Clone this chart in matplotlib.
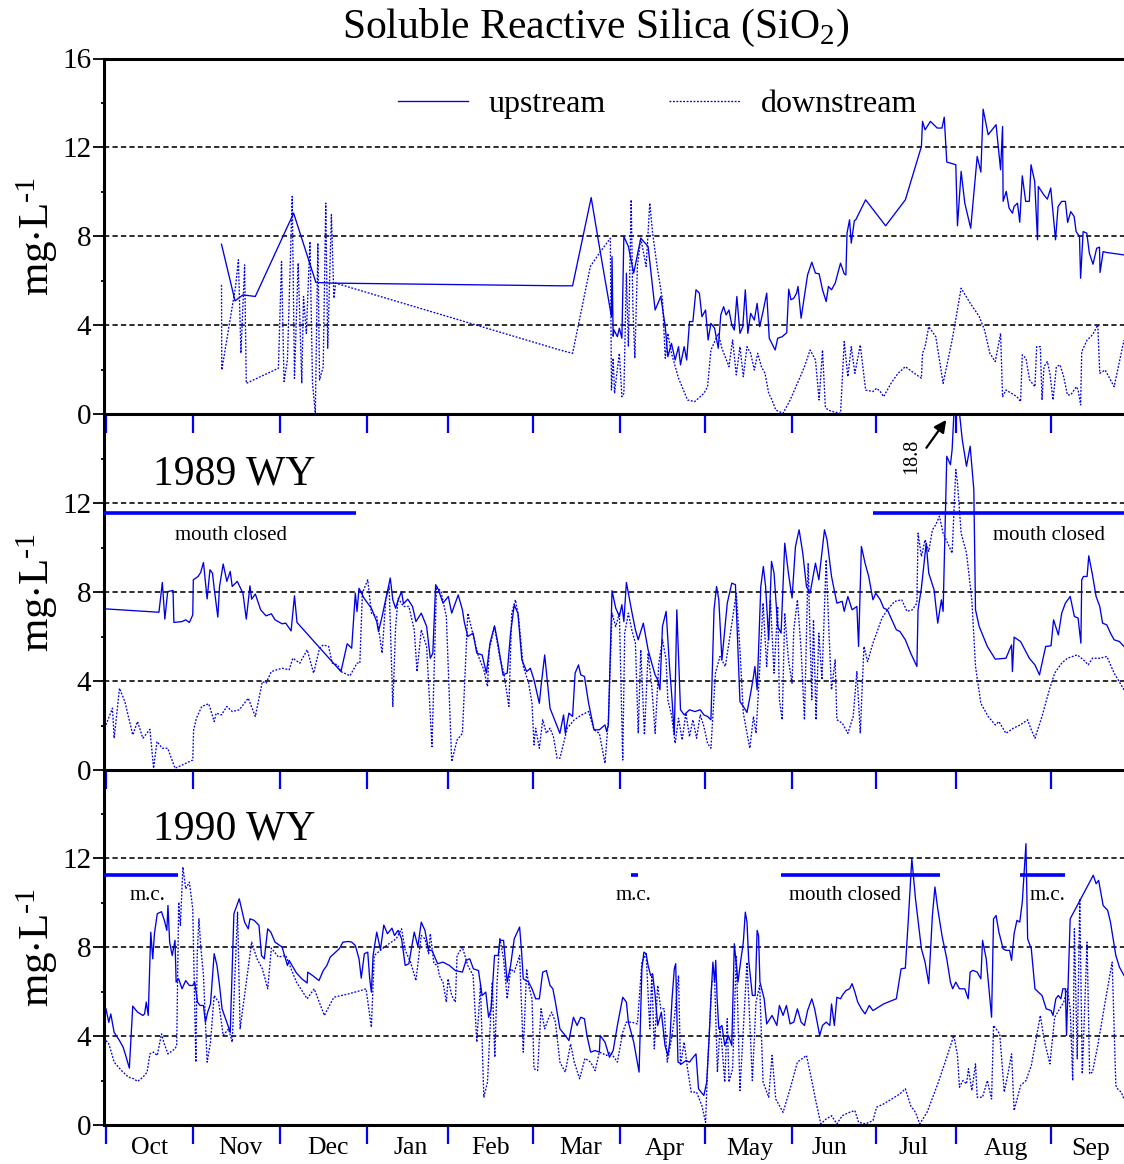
import matplotlib
matplotlib.use("Agg")
import matplotlib.pyplot as plt
import numpy as np

plt.rcParams['font.family'] = ['Liberation Serif', 'DejaVu Serif']
plt.rcParams['mathtext.fontset'] = 'custom'
plt.rcParams['mathtext.rm'] = 'Liberation Serif'

# (water-year day, mg/L) -- day 0 is Oct 1
wy88_up = [
    (41, 7.64), (45.8, 5.09), (48.6, 5.36), (53, 5.29), (66.6, 9.04), (74.5, 5.92), (80.9, 5.89),
    (161.1, 5.77), (165.6, 5.77), (172.2, 9.74), (175.1, 7.54), (179.4, 4.38), (179.6, 7.09),
    (180.0, 3.5), (180.3, 3.78), (181.5, 3.48), (182.2, 3.86), (183.1, 3.41), (183.8, 7.99),
    (185.4, 7.54), (187.3, 6.34), (189.8, 7.91), (192.4, 7.54), (194.9, 4.68), (196.9, 5.29),
    (198.5, 3.93), (199.4, 2.58), (200.7, 3.18), (202, 2.43), (203.2, 3.03), (203.9, 2.21),
    (205.2, 3.03), (206.1, 2.43), (207.1, 4.16), (208.3, 4.16), (209.4, 5.59), (210.6, 5.44),
    (211.5, 4.38), (212.8, 4.68), (213.7, 3.33), (214.7, 4.08), (216, 3.86), (217.3, 2.96),
    (218.2, 4.46), (219.2, 4.83), (220.1, 4.46), (221.1, 4.68), (222.1, 4.01), (223, 3.78),
    (223.9, 5.29), (225, 3.63), (226, 3.93), (226.9, 5.59), (227.8, 3.63), (228.8, 4.53),
    (230.1, 4.23), (231.1, 4.98), (232, 3.93), (233.3, 4.68), (234.5, 5.44), (235.4, 3.41),
    (237.5, 2.88), (238.4, 3.41), (240, 3.48), (241.6, 3.66), (242.3, 5.62), (243.1, 5.14),
    (244.1, 5.21), (245.1, 5.44), (245.6, 5.74), (246.7, 4.31), (249, 6.26), (250.5, 6.83),
    (251.8, 6.34), (253.1, 6.31), (254.3, 5.59), (255.6, 5.06), (256.4, 5.74), (257.5, 5.59),
    (258.8, 5.89), (260.7, 6.79), (262, 6.31), (262.6, 6.26), (263, 8.14), (263.9, 8.74),
    (264.5, 7.69), (265.6, 8.7), (266.1, 8.74), (269.6, 9.64), (276.7, 8.47), (283.7, 9.64),
    (289.4, 12.04), (289.8, 13.17), (290.7, 12.79), (292.6, 13.17), (295, 12.87), (296.7, 12.87),
    (297.5, 13.36), (298.4, 11.34), (301.6, 11.22), (302.2, 8.47), (303.5, 10.92), (304.8, 9.49),
    (306.9, 8.36), (309.2, 11.59), (310.5, 10.89), (311.3, 13.72), (313.1, 12.57), (315.9, 13.02),
    (317.5, 10.99), (318.2, 12.94), (318.4, 9.57), (319.5, 10.02), (320.5, 9.27), (321.7, 9.04),
    (322.3, 9.34), (323.5, 9.49), (324.3, 8.63), (325.2, 10.72), (326.4, 9.57), (327.7, 9.57),
    (328.3, 11.22), (329.6, 10.47), (330.6, 7.84), (330.9, 10.24), (332.8, 9.87), (334.1, 9.67),
    (335.3, 10.17), (337, 7.84), (337.9, 9.34), (339.2, 9.57), (340.5, 9.57), (341.3, 8.62),
    (342.4, 9.11), (343.6, 8.89), (344.3, 8.21), (345.5, 7.99), (345.9, 6.11), (346.8, 8.21),
    (348.1, 8.14), (349, 7.24), (350.3, 6.74), (351.6, 7.46), (352.6, 7.51), (352.8, 6.37),
    (353.9, 7.31), (355.1, 7.27), (361.3, 7.16),
]
wy88_dn = [
    (41, 5.81), (41.1, 1.98), (46, 5.74), (47, 6.94), (47.9, 2.73), (49.2, 6.71), (49.8, 1.38),
    (61.2, 2.06), (62.3, 6.86), (63.2, 1.46), (64.4, 2.43), (66.1, 9.79), (66.9, 1.61), (68.2, 6.79),
    (69.5, 1.38), (70.1, 5.29), (71.1, 3.63), (72.4, 7.76), (73.3, 1.38), (74.3, 0.03), (75.2, 7.69),
    (75.8, 1.53), (77.1, 2.13), (78, 9.49), (78.7, 2.96), (80, 8.97), (80.9, 5.21), (81.5, 5.89),
    (161.1, 2.88), (165.6, 2.73), (171.9, 6.64), (175.1, 7.24), (179, 7.91), (179.4, 1.08),
    (180, 2.51), (180.5, 0.93), (181.3, 1.83), (182.2, 2.73), (183.1, 0.78), (183.8, 0.93),
    (184.7, 6.34), (185.4, 3.03), (186.4, 9.64), (187, 4.83), (187.7, 2.51), (188.6, 6.64),
    (189.8, 7.91), (191.7, 6.64), (193, 9.49), (194, 8.14), (195.6, 6.64), (197.5, 5.14),
    (198.5, 2.51), (199.4, 3.63), (200.7, 2.73), (203.2, 1.61), (206.4, 0.63), (209, 0.56),
    (212.2, 0.93), (213.5, 1.23), (214.7, 2.88), (217.3, 3.63), (218.6, 2.96), (221.1, 2.13),
    (222.4, 3.33), (223.7, 1.76), (225, 3.03), (226.2, 1.68), (227.5, 3.03), (228.8, 2.73),
    (230.1, 1.98), (231.3, 2.73), (232.6, 2.13), (233.9, 1.83), (235.2, 0.93), (236.4, 0.63),
    (237.7, 0.18), (240.3, 0.03), (242.8, 0.63), (245.4, 1.38), (247.9, 2.13), (249.9, 2.88),
    (251.8, 2.43), (253.1, 0.63), (254.3, 2.88), (255.3, 0.33), (256.2, 0.18), (258.2, 0.1),
    (260.7, 0.03), (262, 3.26), (263.3, 1.68), (264.5, 3.03), (265.8, 1.83), (267.7, 3.11),
    (269.6, 1.08), (272.2, 1.01), (273.5, 1.16), (274.8, 1.01), (276, 0.78), (278.6, 1.38),
    (281.1, 1.83), (283.7, 2.13), (286.9, 1.83), (289.4, 1.61), (289.8, 2.73), (290.7, 3.03),
    (292, 3.93), (294.5, 3.48), (297.1, 1.38), (300.3, 3.33), (303.5, 5.66), (306.7, 4.99),
    (309.9, 4.39), (311.8, 3.78), (313.7, 2.73), (315.6, 2.36), (317.5, 3.63), (318.2, 0.78),
    (319.4, 1.08), (321.4, 0.93), (323.3, 0.78), (324.6, 0.56), (325.2, 2.66), (326.5, 2.51),
    (327.8, 1.53), (329.7, 1.23), (330.3, 3.03), (331.6, 3.03), (332.2, 0.63), (332.9, 2.13),
    (334.1, 2.36), (335, 1.83), (336.1, 0.63), (337.3, 2.13), (338.6, 2.21), (339.9, 1.68),
    (341.2, 0.86), (342.4, 0.86), (344.4, 1.23), (345, 1.08), (345.9, 0.41), (346.3, 2.81),
    (348.2, 3.33), (350.1, 3.56), (352, 4.01), (352.7, 1.83), (354.6, 1.98), (356.5, 1.53),
    (357.8, 1.23), (361.3, 3.33),
]

wy89_up = [
    (0, 7.25), (18.8, 7.1), (20, 8.44), (20.9, 6.79), (21.9, 8.03), (23.8, 8.08), (24.1, 6.64),
    (27, 6.68), (28.3, 6.76), (29.6, 6.64), (30.8, 6.98), (31, 8.56), (32.7, 8.71), (33.6, 8.89),
    (34.6, 9.34), (35.9, 7.7), (36.9, 9.01), (37.8, 8.86), (38.4, 8.18), (39.7, 6.88), (40.3, 8.26),
    (41.6, 9.27), (42.9, 8.49), (44.1, 8.94), (44.8, 8.26), (46.6, 8.49), (48.6, 7.96), (49.8, 6.79),
    (51.1, 8.29), (51.7, 7.69), (53, 7.92), (54.9, 7.21), (56.8, 6.94), (58.7, 7.03), (60, 6.76),
    (62.5, 6.58), (63.8, 6.61), (65.7, 6.26), (66.9, 7.84), (67.8, 6.64), (83.4, 4.43), (85.6, 5.68),
    (87.2, 5.48), (88.5, 7.96), (89.1, 7.13), (89.8, 8.18), (91.6, 7.73), (94.2, 7.28), (96.1, 6.68),
    (96.7, 6.23), (98, 6.91), (99, 7.51), (100.5, 8.41), (100.9, 8.64), (101.8, 7.66), (102.8, 7.28),
    (103.7, 7.66), (104.9, 8.03), (105.6, 7.48), (107.1, 7.69), (108.8, 7.36), (110, 6.68),
    (111.9, 7.06), (113.8, 6.46), (115.1, 5.03), (116, 5.26), (117, 8.34), (118, 8.11), (119.6, 7.51),
    (121.5, 7.81), (122.7, 7.06), (125, 7.88), (126.5, 7.21), (127.2, 6.64), (128.4, 6.01),
    (130.3, 6.16), (131.6, 5.26), (133.5, 5.18), (135, 4.36), (136.3, 5.71), (137.9, 6.49),
    (139.2, 5.63), (140.9, 4.28), (142.4, 4.36), (143.6, 6.16), (144.9, 7.43), (146.2, 7.06),
    (147.6, 4.96), (149.3, 4.43), (150.6, 4.58), (151.9, 4.06), (153.8, 3.0), (154.4, 3.76),
    (155.7, 5.18), (157.6, 2.78), (161.1, 1.65), (162.4, 2.48), (163, 1.65), (164.3, 2.56),
    (165.6, 2.41), (166.5, 4.36), (167.7, 4.73), (168.5, 4.28), (169.8, 4.21), (171.3, 3.0),
    (173.2, 1.81), (175.1, 1.81), (177.1, 2.03), (177.7, 1.73), (178.3, 2.03), (179.6, 8.07),
    (180.9, 7.29), (182.2, 6.91), (183.1, 7.44), (183.8, 6.68), (184.7, 8.44), (186.6, 7.14),
    (187.9, 6.31), (188.9, 5.86), (190.7, 6.61), (192.4, 5.41), (193.7, 4.81), (194.9, 4.28),
    (195.8, 4.06), (196.6, 3.61), (197.5, 6.46), (198.8, 7.14), (200.0, 4.66), (200.9, 3.16),
    (201.7, 1.58), (202.6, 7.21), (203.9, 2.71), (205.2, 2.48), (207.1, 2.71), (209, 2.63),
    (210.9, 2.71), (212.2, 2.48), (213.5, 2.41), (214.7, 2.26), (215.8, 7.21), (216.7, 8.26),
    (217.5, 7.66), (218.6, 4.96), (220.5, 7.51), (222.1, 8.41), (223.4, 8.34), (225, 3.08),
    (226.2, 2.86), (227.5, 2.59), (228.8, 3.46), (229.8, 4.21), (230.3, 4.66), (231.1, 3.61),
    (232.4, 8.26), (233.3, 9.16), (234.1, 8.26), (235.2, 5.86), (236.2, 9.39), (237.1, 8.86),
    (238.4, 6.46), (239.6, 6.16), (240.9, 10.21), (242.2, 8.86), (243.5, 7.74), (244.7, 10.06),
    (246, 10.81), (247.3, 9.76), (248.6, 8.26), (249.9, 7.96), (251.8, 9.31), (253.0, 8.56),
    (255, 10.81), (255.9, 10.36), (257.5, 8.71), (258.2, 8.26), (259.4, 7.51), (261.3, 7.59),
    (262, 7.14), (263.3, 7.81), (264.8, 7.21), (266.5, 7.36), (267.1, 5.56), (268.1, 10.06),
    (269.4, 9.31), (270.7, 8.71), (272.2, 7.66), (273.2, 7.96), (274.8, 7.66), (276, 7.29),
    (277.3, 7.21), (278.6, 6.84), (280.5, 6.31), (281.8, 6.23), (283.7, 5.86), (285.6, 5.26),
    (287.8, 4.66), (288.2, 7.21), (289.4, 8.19), (291.1, 10.21), (292, 8.86), (293.9, 8.11),
    (295.2, 6.61), (296.5, 7.66), (297.1, 7.14), (298.4, 14.12), (299.7, 13.74), (300.3, 14.42),
    (302, 18.8), (302.9, 16.07), (303.9, 14.87), (305.4, 13.67), (306.7, 14.57), (308, 12.62),
    (308.6, 7.21), (309.9, 6.46), (312.8, 5.56), (315.6, 4.99), (319.4, 5.03), (321.4, 5.63),
    (321.7, 4.43), (322.3, 5.98), (324.6, 5.78), (327.7, 5.03), (329.7, 4.73), (331.3, 4.28),
    (333.5, 5.56), (335.4, 5.59), (336.3, 6.76), (338, 6.08), (339.2, 7.06), (340.5, 7.51),
    (342.2, 7.81), (343.7, 6.91), (345, 6.84), (346, 5.71), (346.3, 8.56), (346.9, 8.71),
    (348.2, 8.71), (348.8, 9.64), (350.1, 8.79), (351.4, 7.81), (352.7, 7.36), (353.7, 6.61),
    (355.2, 6.53), (356.5, 6.16), (357.8, 5.86), (359.7, 5.78), (361.3, 5.56),
]
wy89_dn = [
    (0, 2.03), (2.3, 2.78), (2.9, 1.43), (4.8, 3.68), (6.7, 3.08), (9.5, 1.58), (11.2, 2.18),
    (13.1, 1.43), (15.6, 1.83), (16.9, 0.08), (18.1, 1.28), (20, 0.98), (21.9, 0.98), (24.5, 0.08),
    (25.8, 0.15), (28.3, 0.3), (30.8, 0.45), (31.1, 1.8), (32.1, 2.33), (34, 2.86), (36.5, 2.98),
    (38.4, 2.18), (39.1, 2.56), (41, 2.48), (42.9, 2.86), (44.8, 2.63), (47.3, 2.71), (50.5, 3.23),
    (53, 2.41), (55.5, 3.98), (56.8, 3.91), (58.7, 4.43), (60.6, 4.51), (62.5, 4.58), (65, 4.51),
    (66.3, 5.03), (68.8, 4.81), (71.4, 5.41), (73.7, 4.36), (75.8, 5.48), (77.1, 5.63), (79, 5.56),
    (80.3, 4.81), (82.2, 4.73), (83.4, 4.43), (86.6, 4.24), (89.1, 4.81), (90.1, 4.81), (91, 7.96),
    (92.9, 8.56), (94.2, 7.06), (96.1, 6.91), (98, 5.26), (99.3, 7.66), (100.5, 8.26), (101.8, 2.86),
    (102.8, 6.46), (103.7, 7.73), (105.6, 7.36), (107.5, 7.36), (109.4, 6.31), (110.4, 4.43),
    (111.9, 6.31), (113.8, 5.56), (115.7, 1.05), (117.3, 8.26), (118.9, 8.03), (120.8, 6.91),
    (122.7, 0.38), (124.6, 1.35), (126.5, 1.65), (128.4, 7.06), (130.3, 6.08), (132.2, 5.11),
    (134.1, 4.51), (135.4, 3.76), (136, 5.41), (137.9, 6.46), (139.8, 5.03), (141.1, 4.43),
    (143, 2.86), (144, 7.06), (145.3, 7.66), (146.4, 6.91), (148.1, 4.66), (150, 3.91), (151.2, 3.0),
    (151.9, 1.13), (152.5, 1.88), (153.8, 0.98), (155, 2.26), (156.3, 1.65), (157.6, 1.88),
    (158.8, 1.5), (160.1, 0.53), (161.1, 0.53), (163.7, 1.88), (166.2, 2.26), (168.8, 2.48),
    (171.3, 2.63), (173.2, 1.81), (175.1, 1.65), (177.1, 0.3), (178.3, 2.26), (179.6, 7.06),
    (180.9, 6.46), (182.2, 7.06), (183.4, 0.45), (184.1, 6.16), (185.4, 7.06), (186.6, 6.31),
    (187.9, 5.71), (188.9, 1.65), (189.8, 5.41), (191.1, 1.58), (192.4, 5.26), (193.7, 3.76),
    (194.9, 1.65), (196.2, 4.81), (197.5, 5.86), (198.8, 4.96), (199.4, 3.16), (200.7, 2.48),
    (202, 1.2), (203.2, 2.33), (204.5, 1.35), (205.8, 2.56), (207.1, 1.5), (208.3, 2.26),
    (209.6, 1.43), (210.9, 2.48), (212.2, 1.96), (213.5, 1.2), (214.7, 0.98), (216.3, 4.36),
    (217.9, 5.11), (219.8, 4.66), (221.8, 6.31), (223.7, 7.96), (225, 5.41), (226.2, 2.56),
    (227.5, 1.65), (228.5, 0.98), (229.8, 2.41), (230.7, 1.65), (232, 4.51), (233.2, 7.51),
    (234.5, 4.66), (235.8, 7.66), (237.1, 4.36), (238.4, 7.36), (239, 3.16), (240, 2.26),
    (240.9, 7.06), (242.2, 4.96), (243.5, 3.91), (244.1, 6.31), (245.4, 7.66), (246.7, 5.41),
    (247.9, 2.26), (249.2, 9.31), (250.5, 3.16), (251.1, 6.76), (252, 2.26), (253, 6.16),
    (254.1, 4.06), (255.6, 9.46), (256.6, 6.16), (257.5, 3.61), (258.8, 4.96), (259.4, 2.26),
    (261.3, 2.11), (263.3, 1.65), (265.2, 2.41), (266.5, 4.43), (267.7, 1.65), (269, 5.56),
    (270.3, 4.88), (272.2, 5.71), (273.5, 6.16), (275.4, 6.84), (277.3, 7.21), (279.9, 7.59),
    (282.4, 7.66), (284.3, 7.14), (286.2, 7.21), (287.8, 7.51), (288.2, 10.66), (289.4, 9.61),
    (290.7, 10.36), (292, 9.84), (293.3, 10.81), (294.5, 11.04), (295.8, 11.42), (297.1, 10.66),
    (300.3, 9.76), (301.6, 13.52), (302.2, 12.92), (303.5, 10.66), (305.4, 9.76), (307.3, 7.66),
    (308.6, 4.66), (310.5, 3.0), (313.1, 2.41), (315.6, 2.03), (316.9, 2.18), (319.4, 1.65),
    (322, 1.88), (324.5, 2.03), (327.1, 2.26), (328.4, 1.81), (329.7, 1.43), (332.2, 2.41),
    (334.8, 3.61), (336.7, 4.36), (339.2, 4.81), (341.2, 5.03), (344.7, 5.18), (346.9, 4.96),
    (348.6, 4.73), (350.1, 5.03), (352.7, 5.03), (355.2, 5.11), (357.8, 4.36), (361.3, 3.61),
]

wy90_up = [
    (0, 5.23), (1, 4.62), (1.7, 5.0), (2.9, 4.17), (4.8, 3.8), (6.1, 3.5), (7, 3.13), (8.3, 2.56),
    (9.5, 5.35), (11.2, 5.08), (13.1, 4.93), (13.7, 5.0), (14.3, 5.53), (15, 4.93), (15.9, 8.68),
    (16.6, 7.48), (17.2, 8.61), (18.2, 9.51), (19.7, 9.6), (20.7, 9.21), (21.6, 8.76), (22, 9.88),
    (22.6, 8.23), (23.5, 7.63), (24.5, 8.31), (24.9, 6.43), (25.8, 6.58), (27, 6.13), (28.3, 6.5),
    (29.6, 6.28), (30.8, 6.28), (31.5, 6.43), (32.5, 5.53), (33.4, 5.38), (34.6, 5.38), (35.3, 4.62),
    (36.1, 5.08), (37.1, 5.45), (38.4, 7.71), (39.4, 7.18), (40.3, 6.28), (41.2, 5.23), (42.9, 4.62),
    (44.1, 4.17), (45.4, 9.51), (47.3, 10.18), (49.2, 9.13), (50.5, 8.83), (51.1, 9.28), (52.6, 9.21),
    (54.3, 8.98), (55.2, 7.63), (56.2, 7.48), (57.4, 8.83), (58.5, 8.68), (60, 8.23), (62.5, 8.01),
    (64.4, 7.18), (65, 7.41), (67.6, 6.84), (69.5, 6.58), (71.4, 6.39), (71.6, 6.88), (73.3, 6.73),
    (75.6, 6.5), (77.1, 6.95), (78.4, 7.18), (79.6, 7.56), (81.5, 7.78), (82.8, 7.93), (84.1, 8.23),
    (86, 8.26), (87.2, 8.23), (88.5, 8.08), (89.8, 7.48), (90.6, 6.61), (91.7, 7.71), (92.9, 7.78),
    (93.6, 6.58), (94.2, 5.98), (94.8, 7.63), (96.1, 8.68), (97.4, 7.89), (98.6, 9.0), (99.9, 8.61),
    (101.5, 8.86), (102.4, 8.53), (103.7, 8.76), (104.9, 8.38), (106.2, 7.18), (107.5, 7.26),
    (109.4, 8.68), (110.7, 8.04), (111.9, 9.13), (113.2, 8.76), (114.5, 7.86), (115.7, 7.86),
    (117.7, 7.26), (119.6, 7.33), (121.9, 7.18), (124, 6.95), (126.5, 6.88), (127.8, 7.41),
    (129.1, 7.48), (130.4, 7.03), (132.2, 6.95), (133.5, 5.83), (134.8, 5.98), (135.8, 4.85),
    (136.7, 5.23), (137.9, 7.63), (139.2, 7.63), (139.8, 8.31), (141.1, 8.31), (142.4, 6.43),
    (143.6, 7.18), (144.9, 8.38), (146.8, 8.91), (147.5, 7.78), (148.1, 6.58), (150, 6.43),
    (151.2, 6.13), (152.5, 5.68), (153.8, 5.68), (155, 6.88), (156.3, 6.95), (157.6, 6.28),
    (158.6, 6.13), (159.5, 5.53), (161.1, 4.33), (163, 4.03), (164.3, 3.8), (165.9, 4.85),
    (167.2, 4.48), (168.5, 4.85), (169.8, 4.78), (170.7, 4.03), (172, 3.28), (173.6, 3.35),
    (175.1, 3.28), (175.4, 4.03), (177.1, 3.73), (178.7, 3.05), (180, 3.35), (181.5, 4.48),
    (183.4, 5.75), (184.7, 5.53), (185.4, 4.63), (187.3, 3.73), (189.2, 2.38), (190.2, 7.03),
    (190.9, 7.78), (191.7, 7.71), (192.4, 7.18), (193.3, 6.73), (194, 6.81), (194.9, 5.83),
    (195.8, 4.48), (197.1, 5.08), (198.4, 3.58), (199.4, 3.13), (200.1, 3.73), (200.9, 5.68),
    (201.7, 7.03), (202.2, 7.26), (203, 2.83), (204.3, 2.75), (205.8, 2.9), (207.1, 2.83),
    (208.4, 3.05), (209.4, 3.2), (210.3, 1.63), (211.2, 1.48), (212.2, 1.33), (213.2, 1.93),
    (214.1, 4.03), (214.7, 5.68), (215.4, 7.33), (216, 6.43), (216.4, 7.41), (216.9, 5.68),
    (217.5, 4.33), (218.6, 4.48), (219.6, 3.58), (220.9, 4.03), (222.1, 3.58), (223, 8.16),
    (224.3, 6.43), (225.3, 7.41), (226.2, 8.23), (226.9, 9.58), (227.5, 9.13), (228.1, 7.41),
    (229.4, 5.83), (230.4, 5.83), (231.1, 8.76), (231.6, 8.53), (232.1, 6.43), (233.6, 5.68),
    (234.5, 4.55), (236.4, 4.93), (238.1, 4.48), (239, 5.38), (240.3, 4.93), (241.5, 5.38),
    (242.8, 4.55), (244.1, 4.63), (245.4, 5.23), (246.7, 4.63), (247.9, 4.48), (249, 5.15),
    (250.5, 5.68), (251.5, 5.23), (252.4, 4.63), (253.3, 4.03), (254.3, 4.48), (255.6, 4.63),
    (256.9, 4.48), (257.5, 5.45), (258.5, 4.48), (259.4, 5.75), (260.7, 5.68), (261.3, 5.83),
    (262.6, 6.05), (263.9, 6.13), (264.8, 6.36), (265.8, 5.98), (266.8, 5.53), (268.1, 5.23),
    (269.4, 5.0), (270.9, 5.38), (272.2, 5.15), (276, 5.45), (280.5, 5.68), (282.2, 7.03),
    (283.7, 7.06), (284.7, 9.13), (286, 11.99), (287.3, 10.18), (289.4, 7.93), (290.7, 7.33),
    (292, 6.36), (293.3, 9.43), (294.2, 10.71), (295.2, 9.73), (296.7, 8.53), (298.4, 7.48),
    (299.7, 6.43), (300.5, 6.13), (301.6, 6.43), (302.9, 6.13), (304.8, 6.13), (306, 5.68),
    (306.7, 6.88), (307.7, 6.96), (309.2, 6.88), (310.5, 6.58), (311.1, 8.31), (312.4, 7.48),
    (314.3, 4.85), (315, 9.28), (315.9, 9.43), (316.9, 8.68), (318.4, 7.93), (319.4, 7.86),
    (320.7, 7.86), (321.4, 7.41), (322.3, 8.61), (323.3, 9.21), (324.3, 9.13), (325.2, 10.03),
    (326.5, 12.66), (327.1, 8.38), (328.4, 7.93), (329.7, 6.13), (330.9, 5.98), (332.2, 5.83),
    (333.7, 5.23), (335.4, 5.15), (336.1, 4.93), (337.1, 5.68), (338, 5.83), (338.9, 5.68),
    (339.6, 6.13), (340.5, 6.13), (340.9, 4.03), (342.2, 9.28), (350.4, 11.24), (351.4, 10.86),
    (352.3, 11.01), (353.9, 9.88), (355.5, 9.66), (356.5, 9.13), (358.4, 7.63), (359.7, 7.1),
    (361.3, 6.73),
]
wy90_dn = [
    (0, 3.8), (1, 3.65), (1.9, 3.28), (2.9, 2.83), (5.5, 2.45), (8, 2.15), (9.9, 2.08), (11.2, 1.96),
    (13.1, 2.15), (14.6, 2.38), (15.6, 3.2), (16.9, 3.28), (18.2, 3.13), (19.7, 4.1), (20.7, 3.65),
    (22, 3.2), (24.5, 3.43), (25.1, 3.58), (25.8, 10.03), (26.4, 8.98), (27.3, 11.61), (28.3, 10.63),
    (29.6, 10.93), (30.8, 9.73), (31.9, 2.83), (32.4, 7.78), (33, 9.28), (33.6, 8.08), (34.6, 6.73),
    (35.9, 2.83), (37.1, 3.73), (38.4, 5.83), (40, 5.53), (41.6, 4.03), (43.5, 4.33), (44.8, 3.73),
    (46.7, 9.58), (47.6, 4.33), (49.8, 6.43), (51.7, 8.23), (53.6, 7.48), (55.5, 7.03), (57.4, 6.13),
    (58.7, 7.96), (61.2, 7.56), (63.8, 7.63), (67.6, 6.43), (71.4, 5.68), (73.9, 6.13), (77.5, 4.93),
    (79, 5.3), (80.9, 5.75), (86, 5.9), (90.4, 6.05), (92.3, 6.13), (93.6, 4.93), (94.2, 4.4),
    (95.2, 7.63), (98, 7.93), (100.5, 8.16), (103.0, 8.38), (104.9, 8.83), (106.2, 7.86),
    (108.1, 7.33), (110, 6.5), (111.9, 8.53), (113.2, 8.38), (114.5, 7.71), (115.1, 8.61),
    (116.4, 7.26), (117.7, 7.18), (118.3, 6.73), (119.6, 6.43), (120.8, 5.53), (121.4, 6.58),
    (122.7, 5.83), (124, 5.53), (124.6, 7.63), (126.5, 8.01), (128.4, 7.18), (130.3, 6.73),
    (131.6, 3.73), (132.9, 6.28), (134.1, 1.25), (135.4, 1.93), (137.1, 6.43), (138, 3.05),
    (138.8, 6.43), (139.8, 8.38), (141.1, 7.48), (142.4, 5.68), (143.6, 7.03), (144.9, 6.88),
    (146.8, 7.63), (148.1, 3.28), (149.3, 7.03), (150, 6.28), (151.2, 5.68), (151.9, 2.53),
    (153.2, 2.45), (154.4, 5.23), (155.7, 4.33), (157, 4.78), (158.2, 5.08), (159.5, 4.63),
    (161.1, 2.83), (163, 2.38), (164.9, 3.65), (166.2, 2.83), (168.1, 2.08), (170, 3.0), (172, 2.83),
    (173.6, 2.45), (175.1, 3.28), (177.7, 3.13), (179, 3.28), (181.5, 2.83), (183.4, 4.18),
    (184.7, 4.63), (186.6, 4.63), (188.6, 4.55), (190.2, 7.33), (191.7, 7.71), (193, 4.33),
    (193.7, 6.73), (194.6, 3.43), (195.8, 6.28), (196.9, 5.23), (198.1, 5.23), (199.2, 2.83),
    (200.7, 3.88), (201.7, 4.78), (203.2, 6.73), (203.9, 2.68), (205.2, 3.73), (206.4, 2.53),
    (207.7, 1.48), (209.6, 1.48), (211.5, 0.87), (212.8, 0.12), (213.5, 2.53), (215, 6.43),
    (216, 6.58), (217, 2.38), (217.9, 4.33), (218.6, 3.58), (219.6, 1.93), (220.5, 4.78),
    (221.1, 1.93), (222.4, 2.53), (223.7, 7.63), (225, 1.55), (226.2, 4.33), (227.5, 7.33),
    (228.5, 4.63), (229.4, 2.0), (230.7, 5.53), (232, 6.28), (233.2, 1.93), (235.2, 1.25),
    (236.4, 3.13), (237.7, 1.17), (240.3, 0.57), (242.8, 1.63), (245.4, 2.83), (248.6, 3.13),
    (250.5, 2.0), (252, 1.03), (253.7, 0.05), (255.6, 0.27), (257.5, 0.42), (259.4, 0.05),
    (261.3, 0.42), (263.9, 0.57), (265.8, 0.65), (267.1, 0.12), (269.6, 0.05), (272.2, 0.2),
    (273.5, 0.8), (276, 0.95), (279.9, 1.25), (281.8, 1.4), (283.7, 1.63), (285.6, 0.87),
    (287.3, 0.57), (288.8, 0.05), (291.4, 0.57), (295.2, 1.85), (298.4, 3.05), (300.9, 4.03),
    (302.2, 3.13), (302.9, 1.7), (304.1, 2.0), (305.4, 1.85), (306.1, 2.53), (307.3, 1.55),
    (308.6, 2.75), (309.2, 1.25), (311.1, 1.25), (312.8, 2.0), (314.3, 1.17), (315, 4.48),
    (317.2, 4.1), (318.8, 1.48), (320.1, 2.3), (321.4, 3.2), (322.3, 0.65), (324.6, 1.78),
    (326.5, 2.0), (328.4, 2.68), (330.3, 4.03), (331.6, 4.93), (332.9, 3.88), (335, 2.75),
    (336.7, 4.85), (339.9, 5.53), (341.2, 6.13), (342.2, 5.23), (343.1, 2.0), (343.7, 8.83),
    (344.7, 2.98), (345.6, 10.18), (346.5, 2.3), (348.2, 8.23), (349.1, 2.3), (350.1, 2.38),
    (352, 3.58), (354.6, 5.53), (357.1, 7.33), (358.4, 1.78), (359, 1.63), (360.3, 1.48),
    (361.3, 1.17),
]

# estuary mouth closed (start day, end day, label, label day)
wy89_closed = [(-1, 88.7, 'mouth closed', 44.4), (272.2, 365, 'mouth closed', 334.6)]
wy90_closed = [(-1, 25.5, 'm.c.', 14.9), (186.4, 188.9, 'm.c.', 187.4),
               (239.4, 296.1, 'mouth closed', 262.2), (324.3, 340.5, 'm.c.', 334.3)]

month_names = ['Oct', 'Nov', 'Dec', 'Jan', 'Feb', 'Mar', 'Apr', 'May', 'Jun', 'Jul', 'Aug', 'Sep']
month_ticks = [0, 30.8, 61.7, 92.5, 121.3, 151.4, 182.4, 212.7, 243.6, 273.2, 301.5, 335.3]
month_label_days = [15.3, 47.6, 78.7, 108.2, 136.5, 168.6, 198.4, 228.5, 256.9, 286.7, 319.4, 349.5]

blue = '#0000e8'
W, H = 1124, 1164
fig = plt.figure(figsize=(W / 100, H / 100), dpi=100)

left = 104 / W
ph = 355.5 / H
bottoms = [1 - 414 / H, 1 - 770 / H, 1 - 1125 / H]
panels = [(wy88_up, wy88_dn), (wy89_up, wy89_dn), (wy90_up, wy90_dn)]
axes = []
for i, (b, (up, dn)) in enumerate(zip(bottoms, panels)):
    ax = fig.add_axes([left, b, 1 - left, ph])
    ax.patch.set_visible(False)
    axes.append(ax)
    ax.set_xlim(-0.7, 361.3)
    ax.set_ylim(0, 16)
    for g in [0, 4, 8, 12, 16]:
        ax.axhline(g, color='black', lw=1.15, ls=(0, (3.3, 2.0)), zorder=1)
    ud, uv = zip(*up)
    dd, dv = zip(*dn)
    ax.plot(ud, uv, color=blue, lw=0.95, zorder=3, label='upstream')
    ax.plot(dd, dv, color=blue, lw=0.95, ls=(0, (1.4, 1.2)), zorder=3, label='downstream')

    ax.spines['right'].set_visible(False)
    ax.spines['top'].set_visible(i == 0)
    for s in ['left', 'bottom', 'top']:
        ax.spines[s].set_linewidth(2.2)
    ax.spines['top'].set_zorder(5)

    ax.set_yticks([0, 4, 8, 12, 16] if i == 0 else [0, 4, 8, 12])
    ax.set_yticks([2, 6, 10, 14], minor=True)
    ax.tick_params(axis='y', which='major', length=8, width=1.3, labelsize=21, pad=1)
    ax.tick_params(axis='y', which='minor', length=2, width=1.3)
    ax.set_xticks(month_ticks)
    ax.set_xticklabels([])
    ax.tick_params(axis='x', which='major', length=14, width=1.6, color='#0000ff')

    fig.text(37 / W, b + ph / 2, '$\\mathregular{mg{\\cdot}L^{\u20101}}$', rotation=90,
             ha='center', va='center', fontsize=31)

axes[2].set_xticks(month_label_days, minor=True)
axes[2].set_xticklabels(month_names, minor=True, fontsize=18.5)
axes[2].tick_params(axis='x', which='minor', length=0, pad=9)

axes[0].legend(handles=axes[0].lines[-2:], ncol=2, frameon=False,
               loc='center left', bbox_to_anchor=(0.288, 0.871), fontsize=23,
               handlelength=2.2, handletextpad=0.66, columnspacing=1.97,
               borderpad=0, borderaxespad=0)

for ax, label in [(axes[1], '1989 WY'), (axes[2], '1990 WY')]:
    ax.text(0.048, 0.8017, label, transform=ax.transAxes, fontsize=30, ha='left', va='baseline')

for ax, periods, bar_y, text_y in [(axes[1], wy89_closed, 11.58, 10.36),
                                   (axes[2], wy90_closed, 11.25, 10.14)]:
    for start, end, label, mid in periods:
        ax.plot([start, end], [bar_y, bar_y], color='#0000ff', lw=2.6, solid_capstyle='butt', zorder=4)
        ax.text(mid, text_y, label, fontsize=15, ha='center', va='baseline')

axes[1].annotate('', xy=(298.8, 15.86), xytext=(290.6, 14.4),
                 arrowprops=dict(arrowstyle='-|>', color='black', lw=1.6, mutation_scale=18))
axes[1].text(286, 14.1, '18.8', rotation=90, fontsize=14.5, ha='center', va='center')

fig.text(596 / W, 1 - 38 / H, r'Soluble Reactive Silica (SiO$_{\mathregular{2}}$)',
         ha='center', va='baseline', fontsize=30)

fig.savefig('out.png', dpi=100)
